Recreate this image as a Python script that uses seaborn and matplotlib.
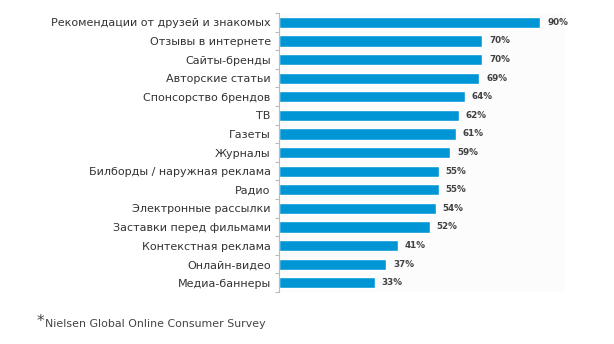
import matplotlib
matplotlib.use("Agg")
import matplotlib.pyplot as plt
import seaborn as sns
import pandas as pd
import numpy as np

categories = [
    "Рекомендации от друзей и знакомых",
    "Отзывы в интернете",
    "Сайты-бренды",
    "Авторские статьи",
    "Спонсорство брендов",
    "ТВ",
    "Газеты",
    "Журналы",
    "Билборды / наружная реклама",
    "Радио",
    "Электронные рассылки",
    "Заставки перед фильмами",
    "Контекстная реклама",
    "Онлайн-видео",
    "Медиа-баннеры",
]
values = [90, 70, 70, 69, 64, 62, 61, 59, 55, 55, 54, 52, 41, 37, 33]
value_labels = [f"{v}%" for v in values]
footnote = "Nielsen Global Online Consumer Survey"

df = pd.DataFrame({"category": categories, "value": values})

sns.set_theme(style="white")
plt.rcParams["font.family"] = ["DejaVu Sans"]

fig = plt.figure(figsize=(6.14, 3.44), dpi=100)
ax = fig.add_axes([0.4544, 0.151, 0.466, 0.811])
ax.set_facecolor("#fcfcfc")

sns.barplot(data=df, y="category", x="value", orient="h", color="#0096D6",
            saturation=1, width=0.6, ax=ax)

for i, (v, lab) in enumerate(zip(values, value_labels)):
    ax.text(v + 2.3, i, lab, va="center", ha="left", fontsize=6.3,
            fontweight="bold", color="#404040")

ax.set_xlim(0, 98.5)
ax.set_ylim(len(categories) - 0.5, -0.5)
ax.set_xlabel("")
ax.set_ylabel("")
ax.set_xticks([])
ax.tick_params(axis="y", which="major", length=0, labelsize=8.0,
               labelcolor="#333333", pad=6)
ax.set_yticks(np.arange(-0.5, len(categories), 1), minor=True)
ax.tick_params(axis="y", which="minor", length=3, color="#bbbbbb", width=0.8,
               left=True)
for s in ["top", "right", "bottom"]:
    ax.spines[s].set_visible(False)
ax.spines["left"].set_color("#bbbbbb")
ax.spines["left"].set_linewidth(0.8)

fig.text(0.060, 0.066, "*", fontsize=11, color="#444444",
         ha="left", va="center")
fig.text(0.074, 0.058, footnote, fontsize=7.9, color="#444444",
         ha="left", va="center")

fig.savefig("out.png", dpi=100)
